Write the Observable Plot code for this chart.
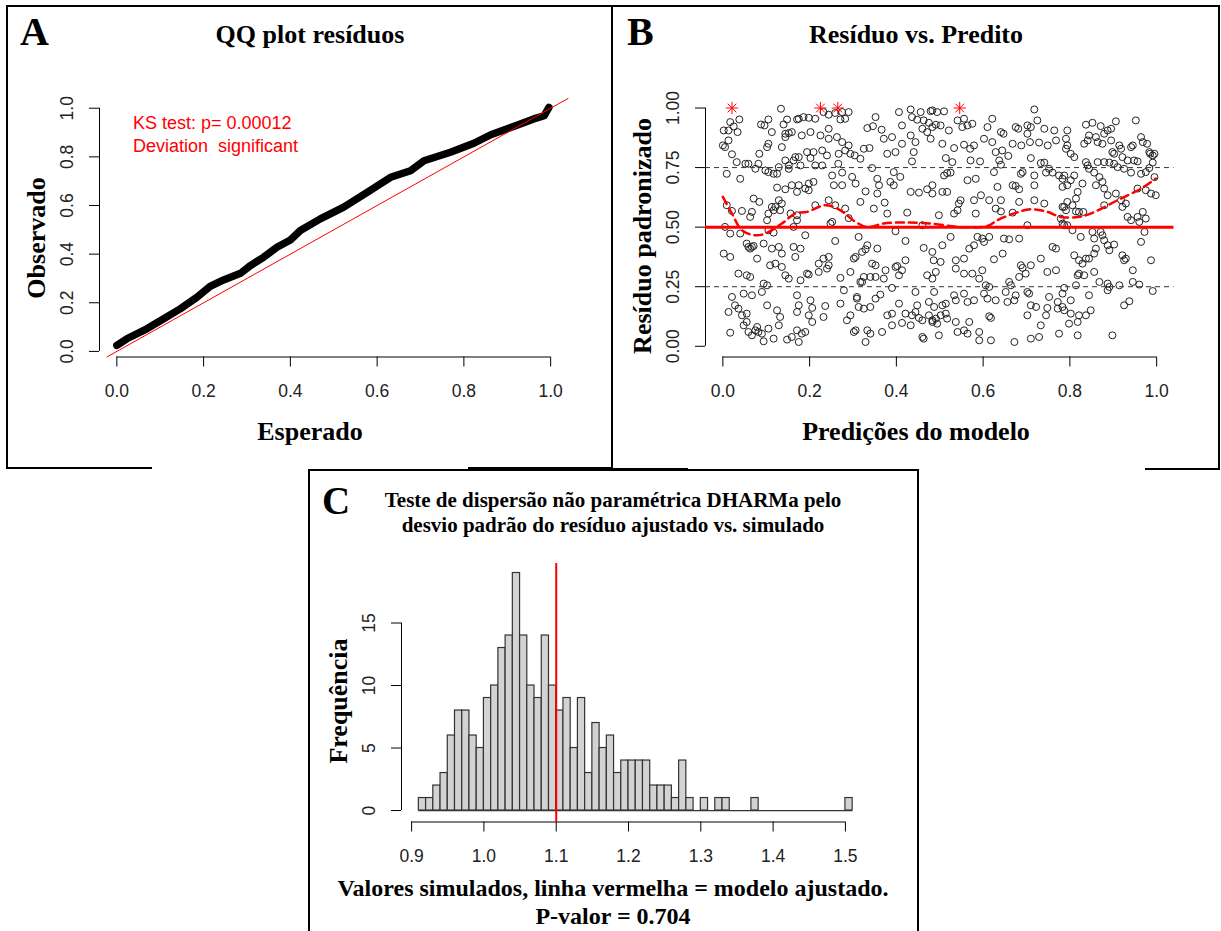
<!DOCTYPE html>
<html><head><meta charset="utf-8">
<script src="https://cdn.jsdelivr.net/npm/d3@7"></script>
<script src="https://cdn.jsdelivr.net/npm/@observablehq/plot@0.6"></script>
<style>
html,body{margin:0;padding:0;background:#fff;}
body{width:1221px;height:931px;overflow:hidden;position:relative;}
.pan{position:absolute;}
#overlay{position:absolute;left:0;top:0;pointer-events:none;}
.serif{font-family:"Liberation Serif","Times New Roman",serif;font-weight:bold;fill:#000;}
.sans{font-family:"Liberation Sans",Arial,sans-serif;}
</style></head><body>
<div id="pA" class="pan" style="left:0;top:0"></div>
<div id="pB" class="pan" style="left:606px;top:0"></div>
<div id="pC" class="pan" style="left:302px;top:465px"></div>
<svg id="overlay" width="1221" height="931">
<path d="M7,6H1220 M7,5V469 M612,5V469 M1219,5V469 M7,468H152 M468,468H612 M612,469H688 M1145,469H1220 M309,470H918 M309,469V931 M918,469V931" stroke="#000" stroke-width="2" fill="none"/>
<text class="serif" x="20" y="45" font-size="40">A</text>
<text class="serif" x="310" y="43" font-size="26" text-anchor="middle">QQ plot resíduos</text>
<text class="serif" x="310" y="440" font-size="26" text-anchor="middle">Esperado</text>
<text class="serif" font-size="26" text-anchor="middle" transform="translate(45,238) rotate(-90)">Observado</text>
<text class="sans" x="133" y="129" font-size="18" fill="#ff0000">KS test: p= 0.00012</text>
<text class="sans" x="133" y="152" font-size="18" fill="#ff0000" xml:space="preserve">Deviation  significant</text>
<text class="serif" x="627" y="45" font-size="40">B</text>
<text class="serif" x="916" y="43" font-size="26" text-anchor="middle">Resíduo vs. Predito</text>
<text class="serif" x="916" y="440" font-size="26" text-anchor="middle">Predições do modelo</text>
<text class="serif" font-size="26" text-anchor="middle" transform="translate(651,236) rotate(-90)">Resíduo padronizado</text>
<text class="serif" x="322" y="514" font-size="39">C</text>
<text class="serif" x="613" y="507" font-size="21" text-anchor="middle">Teste de dispersão não paramétrica DHARMa pelo</text>
<text class="serif" x="613" y="532" font-size="21" text-anchor="middle">desvio padrão do resíduo ajustado vs. simulado</text>
<text class="serif" font-size="26" text-anchor="middle" transform="translate(347,701) rotate(-90)">Frequência</text>
<text class="serif" x="613" y="896" font-size="24" text-anchor="middle">Valores simulados, linha vermelha = modelo ajustado.</text>
<text class="serif" x="613" y="924" font-size="24" text-anchor="middle">P-valor = 0.704</text>
</svg>
<script>
// ---------- Panel A: QQ plot ----------
const qqExpected = [0.0,0.023,0.069,0.108,0.146,0.185,0.215,0.246,0.285,0.308,0.338,0.369,0.4,0.423,0.469,0.523,0.577,0.631,0.677,0.708,0.769,0.823,0.862,0.908,0.961,0.985,0.996];
const qqObserved = [0.025,0.052,0.093,0.134,0.175,0.223,0.267,0.294,0.321,0.353,0.387,0.428,0.458,0.497,0.545,0.593,0.654,0.716,0.743,0.784,0.819,0.856,0.891,0.921,0.956,0.969,1.003];
const qqXDomain = [-0.04, 1.04];
const qqYDomain = [-0.023, 1.04];
const unitTicks = [0, 0.2, 0.4, 0.6, 0.8, 1.0];

// ---------- Panel B: residual vs predicted ----------
const bPoints = [
[0.134,0.997],[0.038,0.952],[0.017,0.941],[0.002,0.906],[0.013,0.906],[0.025,0.923],[0.034,0.899],[0.088,0.931],[0.105,0.952],[0.096,0.927],[0.113,0.899],[0.14,0.931],[0.148,0.952],[0.159,0.899],[0.171,0.952],[0.144,0.892],[0.152,0.895],
[0.0,0.843],[0.005,0.836],[0.013,0.864],[0.021,0.806],[0.032,0.773],[0.052,0.766],[0.084,0.808],[0.102,0.836],[0.105,0.85],[0.136,0.836],[0.144,0.878],[0.082,0.766],[0.105,0.731],[0.098,0.738],[0.117,0.724],[0.125,0.724],[0.152,0.759],[0.144,0.78],[0.163,0.78],[0.167,0.794],[0.059,0.766],
[0.009,0.724],[0.040,0.703],[0.075,0.745],[0.129,0.752],[0.152,0.745],[0.125,0.666],[0.144,0.659],[0.159,0.676],[0.171,0.648],[0.071,0.62],[0.084,0.606],[0.129,0.613],[0.136,0.599],[0.117,0.571],[0.121,0.585],
[0.021,0.568],[0.044,0.568],[0.067,0.564],[0.063,0.543],[0.009,0.592],[0.005,0.501],[0.017,0.473],[0.105,0.557],[0.113,0.585],[0.102,0.529],[0.132,0.571],[0.156,0.557],[0.163,0.501],[0.171,0.529],[0.105,0.487],[0.117,0.477],[0.040,0.473],[0.067,0.417],
[0.002,0.389],[0.017,0.375],[0.055,0.431],[0.059,0.417],[0.063,0.41],[0.071,0.421],[0.094,0.431],[0.113,0.41],[0.129,0.417],[0.136,0.389],[0.109,0.34],[0.079,0.368],[0.163,0.417],[0.167,0.375],[0.036,0.305],[0.055,0.298],[0.063,0.291],[0.094,0.263],[0.102,0.256],[0.136,0.333],[0.144,0.298],[0.152,0.284],[0.121,0.347],
[0.021,0.207],[0.048,0.221],[0.067,0.214],[0.09,0.228],[0.028,0.172],[0.013,0.144],[0.036,0.158],[0.044,0.13],[0.055,0.137],[0.017,0.057],[0.059,0.06],[0.067,0.046],[0.075,0.067],[0.082,0.06],[0.079,0.081],[0.09,0.053],[0.105,0.074],[0.117,0.032],[0.129,0.088],[0.132,0.123],[0.148,0.028],[0.159,0.039],[0.125,0.151],[0.102,0.172],[0.171,0.144],[0.055,0.102],[0.048,0.088],[0.094,0.021],
[0.175,0.955],[0.186,0.962],[0.198,0.959],[0.213,0.955],[0.232,0.983],[0.244,0.972],[0.259,0.979],[0.275,0.983],[0.29,0.983],[0.282,0.955],[0.271,0.952],[0.406,0.983],[0.433,0.994],[0.456,0.983],[0.479,0.987],[0.413,0.927],[0.436,0.962],[0.448,0.951],[0.463,0.948],[0.475,0.938],[0.483,0.92],[0.352,0.962],[0.333,0.916],[0.346,0.924],[0.366,0.909],[0.244,0.913],
[0.182,0.885],[0.202,0.899],[0.225,0.885],[0.244,0.871],[0.263,0.878],[0.275,0.857],[0.29,0.843],[0.282,0.822],[0.294,0.808],[0.304,0.801],[0.317,0.787],[0.325,0.829],[0.338,0.832],[0.371,0.871],[0.39,0.878],[0.379,0.808],[0.398,0.815],[0.413,0.85],[0.433,0.885],[0.444,0.857],[0.44,0.815],[0.46,0.913],[0.471,0.899],[0.479,0.871],
[0.175,0.794],[0.194,0.815],[0.209,0.815],[0.229,0.822],[0.24,0.801],[0.267,0.808],[0.202,0.79],[0.179,0.759],[0.213,0.759],[0.229,0.759],[0.266,0.766],[0.344,0.748],[0.436,0.776],
[0.175,0.676],[0.198,0.683],[0.209,0.69],[0.19,0.662],[0.198,0.655],[0.252,0.717],[0.275,0.729],[0.256,0.676],[0.275,0.676],[0.298,0.711],[0.306,0.683],[0.329,0.65],[0.356,0.703],[0.36,0.676],[0.356,0.641],[0.386,0.69],[0.394,0.676],[0.409,0.711],[0.394,0.731],[0.433,0.648],[0.452,0.645],[0.471,0.659],[0.483,0.641],
[0.373,0.603],[0.348,0.578],[0.379,0.557],[0.425,0.561],[0.213,0.592],[0.244,0.613],[0.259,0.592],[0.282,0.578],[0.317,0.606],[0.171,0.55],[0.252,0.522],[0.248,0.515],[0.29,0.538],[0.19,0.466],[0.259,0.442],[0.313,0.459],[0.333,0.424],[0.329,0.407],[0.179,0.41],[0.356,0.41],[0.421,0.442],[0.463,0.413],[0.483,0.396],[0.46,0.508],[0.398,0.483],
[0.244,0.375],[0.232,0.368],[0.221,0.347],[0.244,0.34],[0.24,0.326],[0.221,0.312],[0.194,0.305],[0.179,0.277],[0.198,0.301],[0.271,0.287],[0.294,0.312],[0.302,0.368],[0.306,0.375],[0.321,0.396],[0.344,0.347],[0.352,0.34],[0.375,0.319],[0.371,0.284],[0.352,0.291],[0.34,0.291],[0.325,0.291],[0.317,0.27],[0.321,0.27],[0.398,0.333],[0.402,0.337],[0.406,0.298],[0.421,0.361],[0.413,0.319],[0.39,0.245],[0.471,0.298],[0.486,0.361],
[0.171,0.214],[0.202,0.193],[0.175,0.172],[0.236,0.169],[0.206,0.161],[0.271,0.179],[0.279,0.235],[0.309,0.207],[0.309,0.2],[0.313,0.165],[0.325,0.158],[0.34,0.165],[0.352,0.2],[0.363,0.217],[0.379,0.13],[0.39,0.137],[0.406,0.179],[0.421,0.137],[0.436,0.13],[0.444,0.228],[0.448,0.172],[0.46,0.109],[0.444,0.144],[0.452,0.119],[0.475,0.13],[0.475,0.186],[0.483,0.102],
[0.198,0.13],[0.206,0.102],[0.232,0.123],[0.286,0.109],[0.294,0.13],[0.306,0.067],[0.302,0.06],[0.333,0.067],[0.34,0.053],[0.367,0.06],[0.39,0.088],[0.413,0.098],[0.433,0.088],[0.463,0.032],[0.46,0.039],[0.171,0.067],[0.182,0.053],[0.19,0.06],[0.175,0.018],[0.329,0.018],
[0.483,0.99],[0.494,0.983],[0.51,0.986],[0.491,0.93],[0.502,0.927],[0.521,0.906],[0.541,0.948],[0.556,0.955],[0.552,0.92],[0.564,0.927],[0.575,0.934],[0.621,0.955],[0.61,0.92],[0.641,0.899],[0.647,0.892],[0.675,0.92],[0.681,0.913],[0.702,0.927],[0.718,0.994],[0.725,0.948],[0.741,0.913],[0.764,0.906],[0.71,0.92],
[0.506,0.85],[0.533,0.832],[0.556,0.846],[0.57,0.829],[0.579,0.843],[0.602,0.871],[0.621,0.857],[0.629,0.815],[0.644,0.822],[0.658,0.799],[0.668,0.85],[0.688,0.843],[0.702,0.892],[0.708,0.857],[0.729,0.855],[0.749,0.843],[0.768,0.864],
[0.514,0.79],[0.529,0.773],[0.571,0.78],[0.593,0.776],[0.637,0.78],[0.641,0.762],[0.625,0.731],[0.687,0.724],[0.71,0.79],[0.733,0.769],[0.741,0.771],[0.752,0.745],[0.76,0.729],[0.775,0.717],[0.745,0.729],[0.783,0.669],
[0.517,0.727],[0.51,0.717],[0.525,0.729],[0.506,0.648],[0.517,0.648],[0.483,0.676],[0.564,0.697],[0.583,0.703],[0.548,0.613],[0.544,0.599],[0.579,0.613],[0.595,0.634],[0.614,0.613],[0.641,0.613],[0.668,0.676],[0.683,0.659],[0.675,0.673],[0.633,0.669],[0.718,0.676],[0.691,0.731],[0.718,0.717],[0.683,0.606],[0.718,0.613],[0.741,0.599],[0.783,0.585],
[0.498,0.55],[0.533,0.557],[0.541,0.571],[0.583,0.557],[0.629,0.578],[0.641,0.566],[0.668,0.561],[0.702,0.508],[0.779,0.536],[0.783,0.515],[0.525,0.459],[0.506,0.424],[0.587,0.459],[0.598,0.452],[0.614,0.459],[0.602,0.438],[0.579,0.424],[0.648,0.452],[0.66,0.449],[0.683,0.452],
[0.502,0.354],[0.537,0.361],[0.556,0.368],[0.568,0.41],[0.625,0.365],[0.645,0.389],[0.733,0.368],[0.768,0.41],[0.76,0.417],[0.483,0.284],[0.491,0.312],[0.537,0.326],[0.556,0.305],[0.575,0.305],[0.598,0.319],[0.591,0.284],[0.606,0.256],[0.66,0.27],[0.664,0.256],[0.687,0.34],[0.691,0.329],[0.71,0.34],[0.683,0.291],[0.698,0.305],[0.748,0.312],[0.768,0.319],
[0.487,0.228],[0.533,0.214],[0.556,0.221],[0.537,0.193],[0.514,0.179],[0.487,0.165],[0.506,0.172],[0.564,0.186],[0.579,0.193],[0.614,0.249],[0.602,0.221],[0.61,0.2],[0.629,0.193],[0.652,0.228],[0.675,0.214],[0.702,0.228],[0.706,0.221],[0.656,0.186],[0.672,0.193],[0.71,0.172],[0.722,0.165],[0.752,0.207],[0.772,0.186],[0.783,0.221],
[0.702,0.13],[0.748,0.161],[0.772,0.158],[0.483,0.109],[0.491,0.116],[0.502,0.13],[0.514,0.137],[0.517,0.116],[0.494,0.095],[0.537,0.102],[0.568,0.102],[0.614,0.126],[0.618,0.119],[0.733,0.088],[0.745,0.13],[0.498,0.046],[0.541,0.06],[0.556,0.067],[0.564,0.053],[0.591,0.06],[0.591,0.025],[0.618,0.025],[0.672,0.018],[0.71,0.032],[0.729,0.039],[0.775,0.053],
[0.837,0.93],[0.852,0.938],[0.871,0.924],[0.895,0.913],[0.887,0.906],[0.906,0.944],[0.952,0.948],[0.794,0.906],[0.791,0.871],[0.794,0.843],[0.791,0.829],[0.802,0.808],[0.81,0.794],[0.833,0.85],[0.844,0.885],[0.86,0.878],[0.841,0.864],[0.864,0.857],[0.875,0.85],[0.879,0.892],[0.895,0.864],[0.914,0.843],[0.918,0.829],[0.902,0.808],[0.898,0.815],[0.921,0.794],[0.941,0.836],[0.945,0.843],[0.964,0.878],[0.968,0.857],[0.978,0.85],[0.985,0.808],[0.991,0.801],[0.983,0.815],[0.995,0.808],
[0.948,0.78],[0.956,0.776],[0.933,0.78],[0.902,0.766],[0.891,0.771],[0.879,0.773],[0.864,0.773],[0.841,0.759],[0.837,0.773],[0.844,0.745],[0.856,0.729],[0.868,0.71],[0.91,0.752],[0.925,0.745],[0.941,0.729],[0.964,0.724],[0.975,0.731],[0.983,0.748],[0.991,0.771],[0.995,0.71],
[0.787,0.717],[0.783,0.703],[0.794,0.676],[0.81,0.717],[0.802,0.697],[0.818,0.648],[0.829,0.683],[0.814,0.62],[0.794,0.606],[0.787,0.585],[0.806,0.592],[0.791,0.571],[0.814,0.566],[0.821,0.564],[0.831,0.564],[0.86,0.676],[0.875,0.69],[0.879,0.662],[0.887,0.634],[0.906,0.641],[0.918,0.613],[0.929,0.599],[0.921,0.585],[0.956,0.662],[0.975,0.655],[0.998,0.634],[0.987,0.641],[0.879,0.592],
[0.933,0.543],[0.941,0.529],[0.956,0.543],[0.968,0.564],[0.975,0.536],[0.96,0.522],[0.972,0.48],[0.964,0.438],[0.794,0.508],[0.787,0.508],[0.806,0.487],[0.825,0.459],[0.852,0.48],[0.856,0.452],[0.871,0.48],[0.875,0.466],[0.879,0.445],[0.887,0.424],[0.902,0.427],[0.891,0.403],[0.86,0.41],
[0.81,0.382],[0.821,0.361],[0.837,0.368],[0.829,0.347],[0.844,0.368],[0.856,0.389],[0.921,0.382],[0.925,0.361],[0.929,0.368],[0.945,0.319],[0.987,0.361],[0.818,0.298],[0.821,0.305],[0.833,0.298],[0.856,0.312],[0.868,0.27],[0.887,0.263],[0.891,0.249],[0.887,0.235],[0.914,0.256],[0.945,0.27],[0.96,0.259],[0.991,0.232],[0.814,0.256],[0.787,0.245],
[0.844,0.214],[0.925,0.172],[0.937,0.189],[0.802,0.193],[0.783,0.165],[0.787,0.151],[0.802,0.137],[0.821,0.13],[0.837,0.13],[0.848,0.151],[0.798,0.095],[0.818,0.102],[0.818,0.046],[0.898,0.046]
];
const bQuantileX = [0,0.021,0.044,0.075,0.098,0.136,0.167,0.194,0.236,0.267,0.306,0.333,0.37,0.42,0.48,0.55,0.61,0.633,0.67,0.71,0.748,0.779,0.82,0.848,0.91,0.964,0.998];
const bQuantileY = [0.627,0.557,0.487,0.466,0.473,0.515,0.557,0.564,0.592,0.575,0.522,0.5,0.515,0.52,0.515,0.5,0.505,0.529,0.557,0.575,0.564,0.543,0.543,0.557,0.613,0.662,0.704];
const outlierX = [0.021, 0.225, 0.265, 0.546];
const outlierY = [1, 1, 1, 1];
const bRefDashed = [0.25, 0.75];
const bRefSolid = [0.5];
const bXDomain = [-0.04, 1.04];
const bYDomain = [-0.045, 1.04];
const quarterTicks = [0, 0.25, 0.5, 0.75, 1.0];

// ---------- Panel C: dispersion histogram ----------
const binEdges = [0.91,0.92,0.93,0.94,0.95,0.96,0.97,0.98,0.99,1.00,1.01,1.02,1.03,1.04,1.05,1.06,1.07,1.08,1.09,1.10,1.11,1.12,1.13,1.14,1.15,1.16,1.17,1.18,1.19,1.20,1.21,1.22,1.23,1.24,1.25,1.26,1.27,1.28,1.29,1.30,1.31,1.32,1.33,1.34,1.35,1.36,1.37,1.38,1.39,1.40,1.41,1.42,1.43,1.44,1.45,1.46,1.47,1.48,1.49,1.50,1.51];
const binCounts = [1,1,2,3,6,8,8,6,5, 9,10,13,14,19,14,10,9,14,10, 8,9,5,9,3,7,5,6,3,4, 4,4,4,2,2,2,1,4,1,0, 1,0,1,1,0,0,0,1,0,0, 0,0,0,0,0,0,0,0,0,0, 1];
const observedDispersion = 1.1;
const cXTicks = [0.9, 1.0, 1.1, 1.2, 1.3, 1.4, 1.5];
const cYTicks = [0, 5, 10, 15];
const cXDomain = [0.886, 1.534];
const cYDomain = [-0.917, 19.76];

// ---------- shared layout ----------
const base = {
  width: 612, height: 470,
  marginTop: 98, marginRight: 44.5, marginBottom: 113.5, marginLeft: 99,
  style: {background: "transparent", fontFamily: "'Liberation Sans', Arial, sans-serif", fontSize: "17.5px", color: "#000", overflow: "visible"}
};
const axisOpts = {tickSize: 10, label: null, fill: "#222"};
function rAxes(xTicks, yTicks, xFmt, yFmt, xDom, yDom) {
  return [
    Plot.ruleY([yDom[0]], {x1: xTicks[0], x2: xTicks[xTicks.length - 1], stroke: "#000", strokeWidth: 1}),
    Plot.ruleX([xDom[0]], {y1: yTicks[0], y2: yTicks[yTicks.length - 1], stroke: "#000", strokeWidth: 1}),
    Plot.axisX(xTicks, {...axisOpts, tickPadding: 18, tickFormat: xFmt}),
    Plot.axisY(yTicks, {...axisOpts, tickPadding: 17, tickRotate: -90, tickFormat: yFmt})
  ];
}

// Panel A
const qqTable = qqExpected.map((e, i) => ({e, o: qqObserved[i]}));
const refLo = Math.max(qqXDomain[0], qqYDomain[0]), refHi = Math.min(qqXDomain[1], qqYDomain[1]);
const refTable = [{v: refLo}, {v: refHi}];
const plotA = Plot.plot({
  ...base,
  x: {domain: qqXDomain}, y: {domain: qqYDomain},
  marks: [
    ...rAxes(unitTicks, unitTicks, d3.format(".1f"), d3.format(".1f"), qqXDomain, qqYDomain),
    Plot.line(qqTable, {x: "e", y: "o", stroke: "#000", strokeWidth: 7.5, strokeLinecap: "round", strokeLinejoin: "round"}),
    Plot.line(refTable, {x: "v", y: "v", stroke: "#ff0000", strokeWidth: 1})
  ]
});
document.getElementById("pA").appendChild(plotA);

// Panel B
const quantTable = bQuantileX.map((x, i) => ({x, y: bQuantileY[i]}));
const outTable = outlierX.map((x, i) => ({x, y: outlierY[i]}));
const plotB = Plot.plot({
  ...base,
  x: {domain: bXDomain}, y: {domain: bYDomain},
  marks: [
    ...rAxes(unitTicks, quarterTicks, d3.format(".1f"), d3.format(".2f"), bXDomain, bYDomain),
    Plot.dot(bPoints, {x: d => d[0], y: d => d[1], r: 3.5, stroke: "#222", strokeWidth: 1, fill: "none"}),
    Plot.ruleY(bRefDashed, {stroke: "#333", strokeWidth: 1, strokeDasharray: "5,4"}),
    Plot.ruleY(bRefSolid, {stroke: "#ff0000", strokeWidth: 3}),
    Plot.line(quantTable, {x: "x", y: "y", stroke: "#ff0000", strokeWidth: 2.5, strokeDasharray: "8,5", curve: "catmull-rom"}),
    Plot.dot(outTable, {x: "x", y: "y", symbol: "plus", r: 4, stroke: "#ff0000", strokeWidth: 1}),
    Plot.dot(outTable, {x: "x", y: "y", symbol: "times", r: 4, stroke: "#ff0000", strokeWidth: 1})
  ]
});
document.getElementById("pB").appendChild(plotB);

// Panel C
const histTable = binCounts.map((c, i) => ({x1: binEdges[i], x2: binEdges[i + 1], count: c}));
const plotC = Plot.plot({
  ...base,
  x: {domain: cXDomain}, y: {domain: cYDomain},
  marks: [
    ...rAxes(cXTicks, cYTicks, d3.format(".1f"), d3.format("d"), cXDomain, cYDomain),
    Plot.ruleY([0], {x1: binEdges[0], x2: binEdges[binEdges.length - 1], stroke: "#333", strokeWidth: 1.2}),
    Plot.rect(histTable.filter(d => d.count > 0), {x1: "x1", x2: "x2", y1: d => 0, y2: "count", fill: "#d3d3d3", stroke: "#333", strokeWidth: 1.2, inset: 0}),
    Plot.ruleX([observedDispersion], {stroke: "#ff0000", strokeWidth: 2})
  ]
});
document.getElementById("pC").appendChild(plotC);
</script>
</body></html>
